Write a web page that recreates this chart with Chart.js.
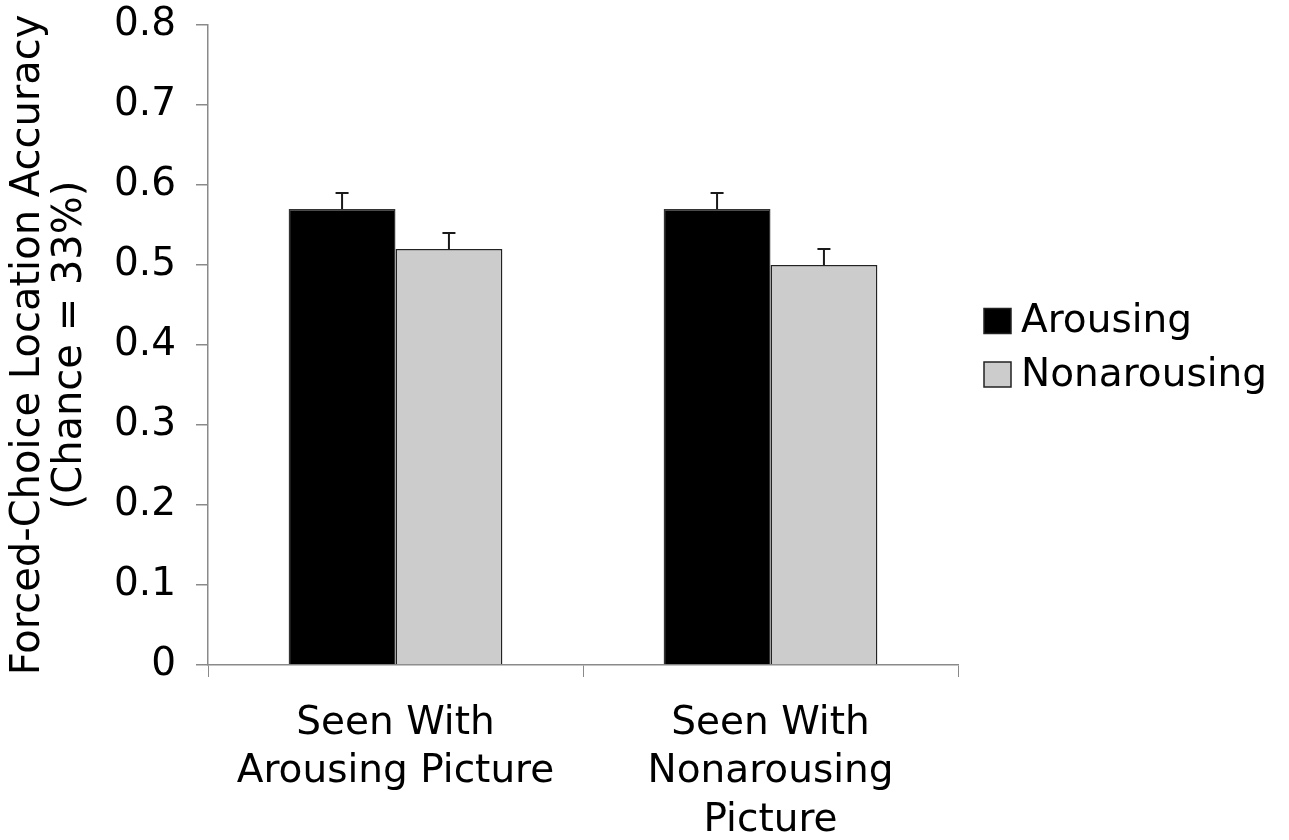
<!DOCTYPE html>
<html>
<head>
<meta charset="utf-8">
<script src="https://cdn.jsdelivr.net/npm/chart.js@4/dist/chart.umd.min.js"></script>
<style>
  body { margin: 0; background: #fff; }
  canvas { display: block; }
</style>
</head>
<body>
<canvas id="accuracyChart" width="1289" height="840"></canvas>
<script>
const categories = [['Seen With', 'Arousing Picture'], ['Seen With', 'Nonarousing', 'Picture']];
const seriesNames = ['Arousing', 'Nonarousing'];
const arousingValues = [0.57, 0.57];
const nonarousingValues = [0.52, 0.50];
const arousingErrors = [0.02, 0.02];
const nonarousingErrors = [0.02, 0.02];
const yTicks = [0, 0.1, 0.2, 0.3, 0.4, 0.5, 0.6, 0.7, 0.8];

const FONT = '"DejaVu Sans", Verdana, sans-serif';

// upper error whiskers
const errorBars = {
    id: 'errorBars',
    afterDatasetsDraw(chart) {
        const ctx = chart.ctx;
        const yScale = chart.scales.y;
        ctx.save();
        ctx.strokeStyle = '#1a1a1a';
        ctx.lineWidth = 2;
        chart.data.datasets.forEach((ds, i) => {
            const meta = chart.getDatasetMeta(i);
            meta.data.forEach((bar, j) => {
                const top = yScale.getPixelForValue(ds.data[j] + ds.errors[j]);
                ctx.beginPath();
                ctx.moveTo(bar.x, bar.y);
                ctx.lineTo(bar.x, top);
                ctx.moveTo(bar.x - 6.5, top);
                ctx.lineTo(bar.x + 6.5, top);
                ctx.stroke();
            });
        });
        ctx.restore();
    }
};

const sideLegend = {
    id: 'sideLegend',
    afterDraw(chart) {
        const ctx = chart.ctx;
        ctx.save();
        ctx.font = '39px ' + FONT;
        ctx.textBaseline = 'middle';
        ctx.textAlign = 'left';
        chart.data.datasets.forEach((ds, i) => {
            const cy = 321 + i * 53.5;
            ctx.fillStyle = ds.backgroundColor;
            ctx.fillRect(984, cy - 12.5, 27, 25);
            ctx.strokeStyle = '#222';
            ctx.lineWidth = 1.5;
            ctx.strokeRect(984, cy - 12.5, 27, 25);
            ctx.fillStyle = '#000';
            ctx.fillText(ds.label, 1021, cy + 1);
        });
        ctx.restore();
    }
};

new Chart(document.getElementById('accuracyChart'), {
    type: 'bar',
    data: {
        labels: categories,
        datasets: [{
            label: seriesNames[0],
            data: arousingValues,
            errors: arousingErrors,
            backgroundColor: '#000000',
            borderColor: '#333333',
            borderWidth: 1.5
        }, {
            label: seriesNames[1],
            data: nonarousingValues,
            errors: nonarousingErrors,
            backgroundColor: '#cccccc',
            borderColor: '#222222',
            borderWidth: 1.5
        }]
    },
    options: {
        responsive: false,
        animation: false,
        layout: { padding: { top: 25, right: 331, left: 0, bottom: 0 } },
        categoryPercentage: 0.57,
        barPercentage: 1.0,
        plugins: {
            legend: { display: false },
            tooltip: { enabled: false }
        },
        scales: {
            y: {
                min: 0,
                max: 0.8,
                afterBuildTicks: scale => {
                    scale.ticks = yTicks.map(v => ({ value: v }));
                },
                afterFit: scale => {
                    scale.width = 208;
                    scale.paddingTop = 0;
                    scale.paddingBottom = 0;
                },
                border: { color: '#8a8a8a', width: 1.5 },
                grid: { drawOnChartArea: false, drawTicks: true, tickLength: 12, color: '#8a8a8a', lineWidth: 1.5 },
                ticks: {
                    padding: 20,
                    color: '#000',
                    font: { family: FONT, size: 39 },
                    callback: v => String(Math.round(v * 10) / 10)
                },
                title: {
                    display: true,
                    text: ['Forced-Choice Location Accuracy', '(Chance = 33%)'],
                    color: '#000',
                    font: { family: FONT, size: 40, lineHeight: 1.05 },
                    padding: { top: 8, bottom: 0 }
                }
            },
            x: {
                offset: true,
                afterFit: scale => { scale.height = 175; },
                border: { color: '#8a8a8a', width: 1.5 },
                grid: { offset: true, drawOnChartArea: false, drawTicks: true, tickLength: 12, color: '#8a8a8a', lineWidth: 1 },
                ticks: {
                    padding: 22,
                    maxRotation: 0,
                    color: '#000',
                    font: { family: FONT, size: 39, lineHeight: 1.25 }
                }
            }
        }
    },
    plugins: [errorBars, sideLegend]
});
</script>
</body>
</html>
